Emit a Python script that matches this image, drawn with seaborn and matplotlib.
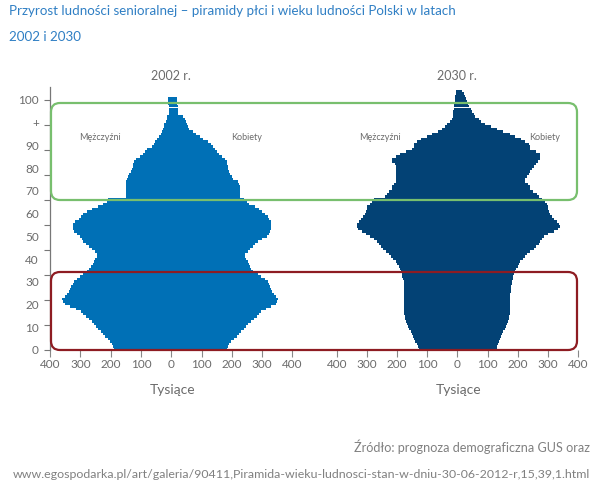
import numpy as np
import pandas as pd
import matplotlib
matplotlib.use("Agg")
import matplotlib.pyplot as plt
from matplotlib.patches import FancyBboxPatch
from matplotlib.transforms import IdentityTransform
import seaborn as sns

# ---------------- data (thousands) ----------------
ages_2002 = list(range(0, 101))
men_2002 = [190, 192, 196, 202, 210, 217, 225, 233, 240, 248,
            255, 262, 272, 282, 291, 299, 315, 335, 350, 356,
            360, 350, 343, 338, 334, 330, 325, 321, 312, 302,
            290, 277, 270, 264, 259, 255, 250, 244, 246, 252,
            261, 272, 282, 290, 296, 302, 312, 321, 325, 325,
            323, 318, 305, 298, 290, 277, 260, 242, 225, 212,
            208, 150, 148, 148, 148, 148, 148, 148, 146, 144,
            138, 132, 129, 127, 125, 124, 115, 102, 94, 87,
            80, 64, 58, 52, 47, 40, 35, 30, 27, 25,
            25, 18, 15, 14, 8, 8, 8, 8, 9, 11,
            11]
women_2002 = [185, 188, 192, 198, 206, 216, 224, 232, 240, 247,
              254, 262, 272, 282, 290, 298, 312, 330, 345, 348,
              351, 345, 338, 333, 330, 326, 322, 318, 308, 298,
              285, 270, 265, 260, 256, 252, 248, 243, 245, 252,
              260, 270, 278, 286, 300, 315, 322, 326, 330, 331,
              331, 328, 322, 318, 310, 300, 290, 275, 258, 249,
              240, 228, 227, 227, 227, 227, 224, 221, 205, 200,
              195, 191, 189, 187, 185, 183, 176, 167, 158, 150,
              145, 139, 130, 120, 106, 95, 82, 73, 60, 55,
              52, 48, 46, 40, 21, 21, 21, 21, 19, 19,
              19]

ages_2030 = list(range(0, 104))
men_2030 = [128, 131, 135, 139, 143, 147, 150, 155, 160, 163,
            166, 169, 172, 174, 176, 177, 178, 178, 178, 178,
            178, 178, 178, 178, 178, 178, 178, 178, 180, 182,
            184, 186, 189, 194, 200, 205, 213, 220, 227, 235,
            245, 252, 260, 266, 276, 288, 302, 316, 330, 334,
            332, 326, 320, 312, 305, 302, 300, 298, 290, 282,
            277, 240, 233, 225, 216, 216, 210, 202, 202, 204,
            205, 205, 202, 202, 208, 216, 216, 205, 189, 170,
            150, 145, 145, 135, 122, 100, 84, 65, 51, 40,
            34, 25, 18, 16, 14, 13, 12, 11, 10, 9,
            8, 7, 5, 3]
women_2030 = [131, 133, 135, 137, 141, 145, 148, 153, 158, 161,
              164, 167, 170, 172, 173, 174, 175, 175, 175, 175,
              175, 175, 175, 177, 178, 179, 180, 181, 183, 185,
              187, 190, 195, 200, 205, 209, 218, 225, 231, 242,
              255, 262, 270, 275, 280, 286, 300, 319, 335, 339,
              336, 330, 320, 314, 308, 305, 302, 300, 296, 290,
              282, 270, 264, 252, 242, 242, 235, 225, 225, 230,
              236, 240, 248, 253, 260, 268, 275, 275, 275, 262,
              242, 242, 238, 225, 210, 190, 175, 150, 131, 110,
              93, 80, 72, 60, 54, 48, 44, 40, 35, 32,
              28, 25, 21, 16]

x_ticks = [-400, -300, -200, -100, 0, 100, 200, 300, 400]
x_tick_labels = ["400", "300", "200", "100", "0", "100", "200", "300", "400"]
age_ticks = [0, 10, 20, 30, 40, 50, 60, 70, 80, 90, 100]
age_tick_labels = ["0", "10", "20", "30", "40", "50", "60", "70", "80", "90", "+", "100"]

panel_titles = ["2002 r.", "2030 r."]
sex_labels = ["Mężczyźni", "Kobiety"]
title_lines = ["Przyrost ludności senioralnej – piramidy płci i wieku ludności Polski w latach",
               "2002 i 2030"]
x_label = "Tysiące"
source_lines = ["Źródło: prognoza demograficzna GUS oraz",
                "www.egospodarka.pl/art/galeria/90411,Piramida-wieku-ludnosci-stan-w-dniu-30-06-2012-r,15,39,1.html"]

# ---------------- style ----------------
sns.set_style("white")
plt.rcParams["font.family"] = ["Lato", "DejaVu Sans"]

W, H = 613, 487
fig = plt.figure(figsize=(W / 100, H / 100), dpi=100)
fig.patch.set_facecolor("white")

GRAY = "#6b6b6b"
colors = ["#0070b6", "#034275"]


def fx(px):
    return px / W


def fy(py):
    return 1 - py / H


bottom_px, top_px = 350, 87.5
axes_x = [(50, 292.4), (336.7, 578)]
frames = [(ages_2002, men_2002, women_2002), (ages_2030, men_2030, women_2030)]

for i, ((x0, x1), (ages, men, women)) in enumerate(zip(axes_x, frames)):
    ax = fig.add_axes([fx(x0), fy(bottom_px), (x1 - x0) / W, (bottom_px - top_px) / H])
    ax.set_facecolor("none")
    df = pd.DataFrame({
        "age": ages + ages,
        "value": [-v for v in men] + list(women),
        "sex": ["M"] * len(ages) + ["K"] * len(ages),
    })
    sns.barplot(data=df, x="value", y="age", hue="sex", orient="h",
                native_scale=True, dodge=False, width=1.0, saturation=1,
                palette=[colors[i], colors[i]], legend=False,
                edgecolor="none", linewidth=0, antialiased=False,
                ax=ax, errorbar=None)
    ax.set_xlim(-400, 400)
    ax.set_ylim(-0.5, 104.5)
    ax.set_xlabel("")
    ax.set_ylabel("")
    for s in ["top", "right", "bottom"]:
        ax.spines[s].set_visible(False)
    ax.set_xticks(x_ticks)
    ax.set_xticklabels(x_tick_labels)
    ax.tick_params(axis="x", direction="out", length=5, width=0.8, color="#888888",
                   labelsize=8.5, labelcolor=GRAY, pad=1.5, bottom=True)
    if i == 0:
        ax.yaxis.remove_overlapping_locs = False
        ax.spines["left"].set_visible(True)
        ax.spines["left"].set_color("#777777")
        ax.spines["left"].set_linewidth(0.9)
        ax.set_yticks([a - 0.5 for a in age_ticks])
        ax.set_yticklabels([""] * len(age_ticks))
        ax.tick_params(axis="y", which="major", direction="out", length=4,
                       width=0.8, color="#777777", left=True)
        lab_pos = [k * 100 / 11 - 0.5 for k in range(len(age_tick_labels))]
        ax.set_yticks(lab_pos, minor=True)
        ax.set_yticklabels(age_tick_labels, minor=True)
        ax.tick_params(axis="y", which="minor", length=0, pad=8,
                       labelsize=8.5, labelcolor=GRAY, left=True)
    else:
        ax.spines["left"].set_visible(False)
        ax.set_yticks([])

    cx = (x0 + x1) / 2
    fig.text(fx(cx), fy(76), panel_titles[i], ha="center", va="center",
             fontsize=9, color=GRAY)
    fig.text(fx(cx + 1), fy(390), x_label, ha="center", va="center",
             fontsize=10, color=GRAY)

# sex labels
for (xm, xk) in [(100, 247), (380, 545)]:
    fig.text(fx(xm), fy(137), sex_labels[0], ha="center", va="center",
             fontsize=6.5, color=GRAY)
    fig.text(fx(xk), fy(137), sex_labels[1], ha="center", va="center",
             fontsize=6.5, color=GRAY)

# highlight boxes (pixel coordinates)
def box(x0, y0, x1, y1, color):
    p = FancyBboxPatch((x0, H - y1), x1 - x0, y1 - y0,
                       boxstyle="round,pad=0,rounding_size=9",
                       transform=IdentityTransform(), facecolor="none",
                       edgecolor=color, linewidth=1.6, zorder=5)
    fig.add_artist(p)

box(51, 103, 577, 200, "#78bf6e")
box(51, 272, 577, 350, "#8e1c22")

# title
fig.text(fx(9), fy(11), title_lines[0], ha="left", va="center",
         fontsize=9.6, color="#2f7fc4")
fig.text(fx(9), fy(37), title_lines[1], ha="left", va="center",
         fontsize=9.6, color="#2f7fc4")

# source
fig.text(fx(590), fy(447), source_lines[0], ha="right", va="center",
         fontsize=9.1, color="#808080")
fig.text(fx(590), fy(474), source_lines[1], ha="right", va="center",
         fontsize=8.9, color="#808080")

fig.savefig("out.png", dpi=100)
